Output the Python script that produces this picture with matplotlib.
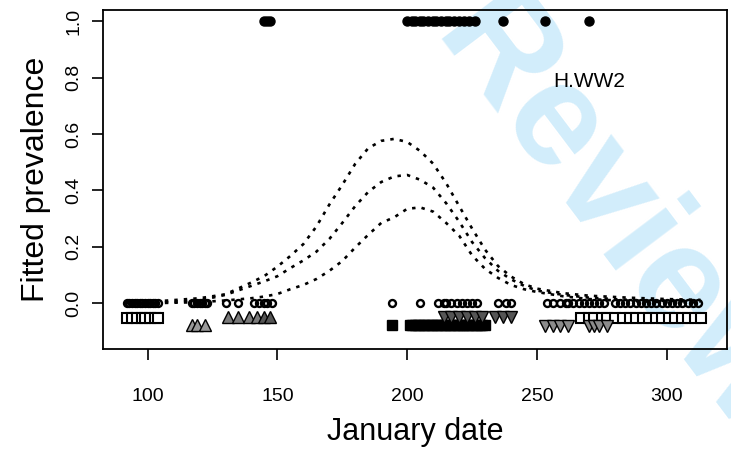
import matplotlib
matplotlib.use('Agg')
import matplotlib.pyplot as plt

plt.rcParams['font.family'] = ['Liberation Sans', 'DejaVu Sans']

# fitted curves (upper, mid, lower)
curve_dates = [92, 105, 120, 130, 140, 145, 150, 155, 160, 165, 170, 175, 180, 185, 190, 195,
               200, 205, 210, 215, 220, 225, 230, 235, 240, 245, 250, 260, 270, 285, 300, 313]
upper = [0.003, 0.008, 0.018, 0.032, 0.074, 0.097, 0.13, 0.168, 0.21, 0.272, 0.35, 0.42, 0.495,
         0.55, 0.576, 0.583, 0.572, 0.54, 0.495, 0.426, 0.345, 0.265, 0.19, 0.132, 0.095, 0.068,
         0.052, 0.036, 0.027, 0.02, 0.015, 0.012]
middle = [0.001, 0.003, 0.01, 0.03, 0.062, 0.078, 0.096, 0.125, 0.152, 0.183, 0.228, 0.285, 0.345,
          0.395, 0.43, 0.45, 0.455, 0.438, 0.41, 0.355, 0.29, 0.217, 0.16, 0.115, 0.085, 0.062,
          0.045, 0.03, 0.02, 0.012, 0.008, 0.006]
lower = [0.0, 0.001, 0.004, 0.01, 0.018, 0.024, 0.033, 0.05, 0.065, 0.086, 0.115, 0.15, 0.198,
         0.243, 0.285, 0.305, 0.335, 0.34, 0.325, 0.285, 0.24, 0.17, 0.122, 0.09, 0.065, 0.05,
         0.04, 0.025, 0.015, 0.008, 0.004, 0.003]

# observed negatives (0) and positives (1)
neg_dates = [92, 93, 94, 95, 96, 97, 98, 99, 100, 101, 102, 103, 104,
             117, 118, 119, 120, 121, 122, 123,
             130, 135, 141, 143, 145, 146, 148,
             194, 205, 212, 214, 215, 217, 219, 221, 223, 225, 227, 235, 238, 240,
             254, 256, 259, 261, 262, 264, 266, 268, 270, 272, 274, 276, 280, 282, 284, 286,
             288, 290, 292, 294, 296, 298, 300, 302, 304, 306, 308, 310, 312]
pos_dates = [145, 146, 147, 200, 202, 203, 205, 206, 208, 210, 211, 213, 215, 216, 218, 220,
             222, 224, 226, 237, 253, 270]

# sampling rows per group
sq_open_dates = [92, 94, 96, 98, 99, 101, 103, 104,
                 267, 270, 272, 275, 277, 280, 283, 286, 288, 291, 293, 296, 298, 301, 303,
                 306, 308, 311, 313]
tri_up_light = [117, 119, 122]
tri_up_mid = [131, 135, 139, 142]
tri_up_dark = [145, 147]
sq_black_dates = [194, 201, 202, 203, 204, 205, 206, 207, 208, 209, 210, 211, 212, 213, 214,
                  215, 216, 217, 218, 219, 220, 221, 222, 223, 224, 225, 226, 227, 228, 229, 230]
tri_down_dark = [214, 217, 220, 223, 226, 229, 234, 237, 240]
tri_down_light = [253, 256, 259, 262, 270, 272, 274, 277]

fig = plt.figure(figsize=(7.31, 4.61), dpi=100)
ax = fig.add_axes([0.1409, 0.2430, 0.8536, 0.7353])
ax.set_facecolor('none')
ax.set_zorder(1)

# watermark
fig.text(0.84, 0.53, 'Review', rotation=-53, rotation_mode='anchor', ha='center', va='center',
         fontsize=106, fontweight='bold', color='#d2edfb', zorder=0)

ls = (0, (1.3, 2.3))
for c in (upper, middle, lower):
    ax.plot(curve_dates, c, color='black', lw=1.9, linestyle=ls)

ax.plot(neg_dates, [0] * len(neg_dates), 'o', ms=5, mfc='none', mec='black', mew=1.7)
ax.plot(pos_dates, [1] * len(pos_dates), 'o', ms=6.5, mfc='black', mec='black')

ax.plot(sq_open_dates, [-0.052] * len(sq_open_dates), 's', ms=6.5, mfc='white', mec='black', mew=1.5)
ax.plot(tri_up_light, [-0.077] * len(tri_up_light), '^', ms=8.5, mfc='#999999', mec='black', mew=1)
ax.plot(tri_up_mid, [-0.05] * len(tri_up_mid), '^', ms=8.5, mfc='#7a7a7a', mec='black', mew=1)
ax.plot(tri_up_dark, [-0.05] * len(tri_up_dark), '^', ms=8.5, mfc='#555555', mec='black', mew=1)
ax.plot(sq_black_dates, [-0.076] * len(sq_black_dates), 's', ms=6.5, mfc='black', mec='black')
ax.plot(tri_down_dark, [-0.05] * len(tri_down_dark), 'v', ms=8.5, mfc='#555555', mec='black', mew=1)
ax.plot(tri_down_light, [-0.08] * len(tri_down_light), 'v', ms=8.5, mfc='#8c8c8c', mec='black', mew=1)

ax.text(270, 0.786, 'H.WW2', fontsize=15, ha='center', va='center')

ax.set_xlim(82.8, 323.2)
ax.set_ylim(-0.162, 1.04)
ax.set_xticks([100, 150, 200, 250, 300])
ax.set_yticks([0.0, 0.2, 0.4, 0.6, 0.8, 1.0])
ax.set_yticklabels(['0.0', '0.2', '0.4', '0.6', '0.8', '1.0'])
ax.tick_params(axis='both', direction='out', length=8, width=1.2, labelsize=14)
ax.tick_params(axis='x', pad=20)
ax.tick_params(axis='y', pad=7, labelrotation=90)
for lab in ax.get_yticklabels():
    lab.set_va('center')
for s in ax.spines.values():
    s.set_linewidth(1.3)

ax.set_xlabel('January date', fontsize=22, labelpad=9)
ax.set_ylabel('Fitted prevalence', fontsize=23, labelpad=10)

fig.savefig('out.png', dpi=100)
